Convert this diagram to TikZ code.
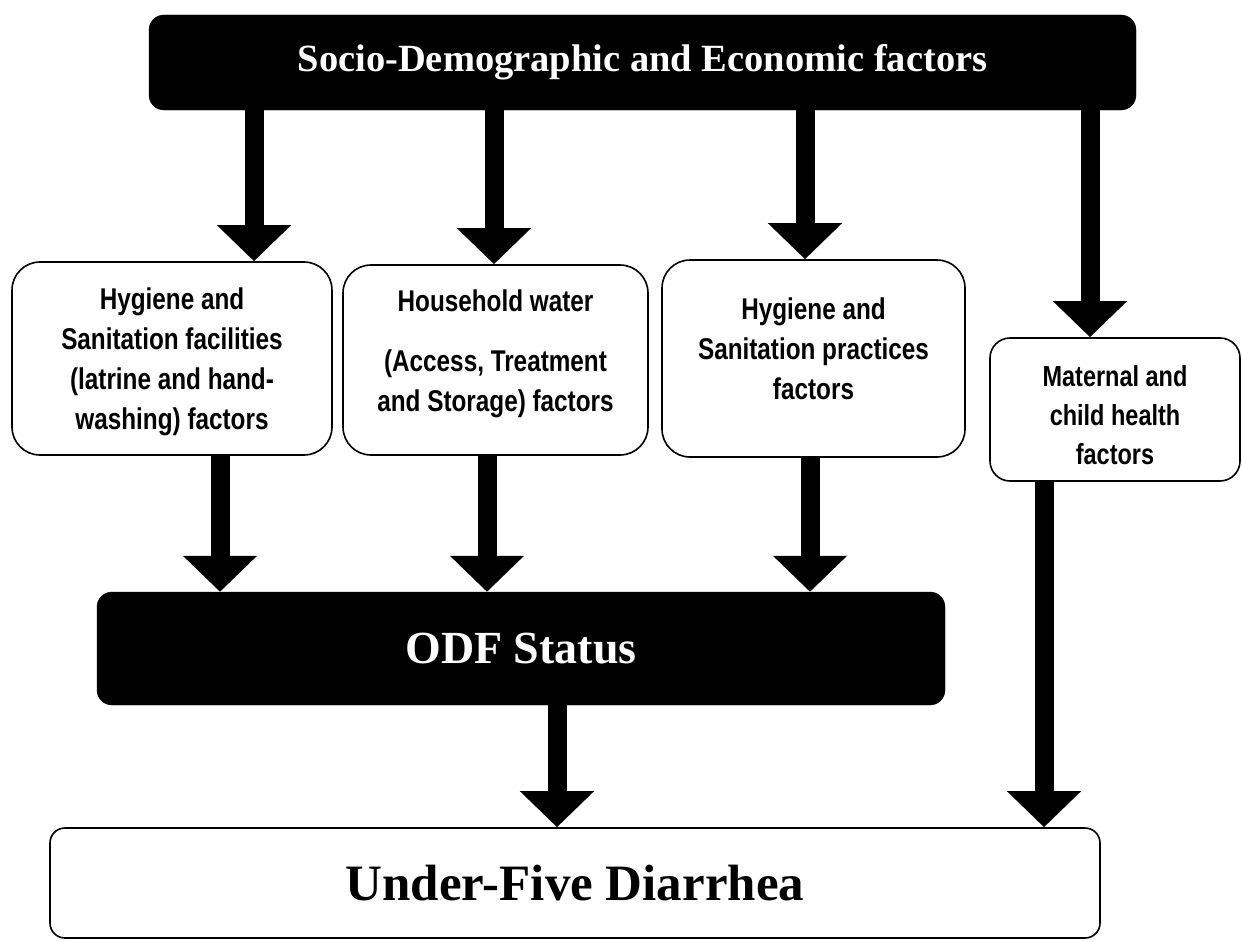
\documentclass[tikz,border=0pt]{standalone}
\usepackage{fontspec}
\setmainfont{Liberation Serif}
\newfontfamily\boxfont[FakeStretch=0.81]{Liberation Sans}
\usetikzlibrary{arrows.meta}
\begin{document}
\begin{tikzpicture}[x=1pt,y=-1pt,
  blackbox/.style={draw=black, fill=black, rounded corners=15pt, inner sep=0pt, text=white},
  whitebox/.style={draw=black, line width=1.6pt, fill=white, rounded corners=28pt, inner sep=0pt},
  boxtext/.style={inner sep=0pt, align=center, font={\boxfont\bfseries\fontsize{30}{40}\selectfont}},
  bigarrow/.style={line width=19pt, -{Triangle[length=36pt,width=72pt]}}]
\useasboundingbox (0,0) rectangle (1242,942);
\fill[white] (0,0) rectangle (1242,942);

\node[blackbox, minimum width=987pt, minimum height=95pt,
  font={\bfseries\fontsize{38.5}{44}\selectfont}] (top) at (642.5,62.5) {\raisebox{3pt}{Socio-Demographic and Economic factors}};

\node[whitebox, minimum width=320pt, minimum height=193pt] (h1) at (172,358.5) {};
\node[boxtext] (h1t) at (172,362) {Hygiene and\\Sanitation facilities\\(latrine and hand-\\washing) factors};
\node[whitebox, minimum width=305pt, minimum height=190pt] (h2) at (495.5,360) {};
\node[boxtext] (h2t) at (495.5,354) {Household water\\[20pt](Access, Treatment\\and Storage) factors};
\node[whitebox, minimum width=303pt, minimum height=197pt] (h3) at (813.5,358.5) {};
\node[boxtext] (h3t) at (813.5,349) {Hygiene and\\Sanitation practices\\factors};
\node[whitebox, minimum width=250pt, minimum height=143pt, rounded corners=20pt] (h4) at (1115,409.5) {};
\node[boxtext, font={\boxfont\bfseries\fontsize{29}{39}\selectfont}] (h4t) at (1115,415) {Maternal and\\child health\\factors};

\node[blackbox, minimum width=848pt, minimum height=113pt,
  font={\bfseries\fontsize{46}{52}\selectfont}] (odf) at (521,648.5) {ODF Status};

\node[whitebox, rounded corners=15pt, minimum width=1050pt, minimum height=110pt,
  font={\bfseries\fontsize{51}{56}\selectfont}] (ufd) at (575,883) {Under-Five Diarrhea};

\draw[bigarrow] (top.south -| 254,0) -- (h1.north -| 254,0);
\draw[bigarrow] (top.south -| 494,0) -- (h2.north -| 494,0);
\draw[bigarrow] (top.south -| 805,0) -- (h3.north -| 805,0);
\draw[bigarrow] (top.south -| 1090,0) -- (h4.north -| 1090,0);

\draw[bigarrow] (h1.south -| 220,0) -- (odf.north -| 220,0);
\draw[bigarrow] (h2.south -| 487,0) -- (odf.north -| 487,0);
\draw[bigarrow] (h3.south -| 810,0) -- (odf.north -| 810,0);
\draw[bigarrow] (odf.south -| 557,0) -- (ufd.north -| 557,0);
\draw[bigarrow] (h4.south -| 1044,0) -- (ufd.north -| 1044,0);
\end{tikzpicture}
\end{document}
